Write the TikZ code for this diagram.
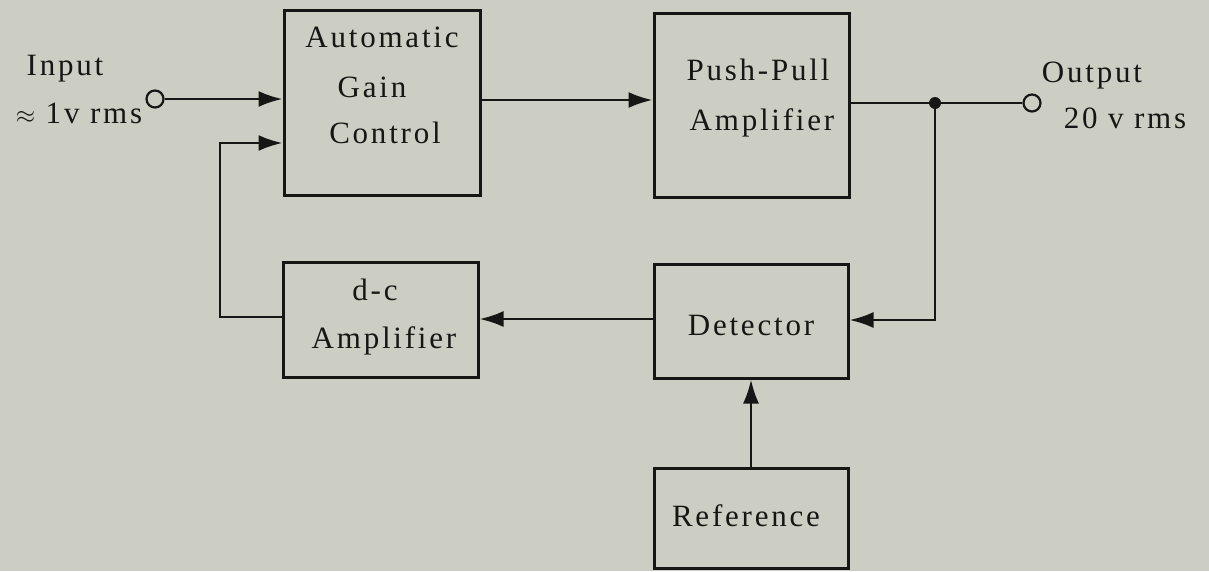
\documentclass[tikz,border=0pt]{standalone}
\usepackage{fontspec}
\setmainfont[LetterSpace=9]{Liberation Serif}
\usetikzlibrary{arrows.meta}
\definecolor{bgc}{RGB}{205,206,195}
\definecolor{ink}{RGB}{22,22,20}
\tikzset{
  blk/.style={draw=ink, line width=3pt, minimum width=#1, inner sep=0pt},
  lbl/.style={anchor=base, inner sep=0pt, text=ink, font=\fontsize{31}{33}\selectfont},
  wire/.style={draw=ink, line width=2.6pt},
  arr/.style={wire, -{Latex[length=24pt,width=16pt]}},
  term/.style={circle, draw=ink, line width=2.2pt, minimum size=17pt, inner sep=0pt},
  jdot/.style={circle, fill=ink, minimum size=12pt, inner sep=0pt}
}
\begin{document}
\begin{tikzpicture}[x=1pt,y=-1pt]
\fill[bgc] (0,0) rectangle (1209,571);
\useasboundingbox (0,0) rectangle (1209,571);

% boxes
\node[blk=196pt, minimum height=185pt] (agc) at (382,102.5) {};
\node[blk=195pt, minimum height=184pt] (pp) at (751.5,105) {};
\node[blk=195pt, minimum height=115pt] (dc) at (380.5,319.5) {};
\node[blk=194pt, minimum height=114pt] (det) at (751,321) {};
\node[blk=194pt, minimum height=100pt] (ref) at (751,518) {};

% texts
\node[lbl] (t1) at (382,47) {Automatic};
\node[lbl] (t2) at (372,97) {Gain};
\node[lbl] (t3) at (385,143) {Control};
\node[lbl] (t4) at (758,80) {Push-Pull};
\node[lbl] (t5) at (762,130) {Amplifier};
\node[lbl] (t6) at (375,300) {d-c};
\node[lbl] (t7) at (384,348) {Amplifier};
\node[lbl] (t8) at (751,335) {Detector};
\node[lbl] (t9) at (746,526) {Reference};
\node[lbl] (tin) at (65,75) {Input};
\node[lbl] (tinv) at (79,123) {$\approx$ 1v rms};
\node[lbl] (tout) at (1092,82) {Output};
\node[lbl] (toutv) at (1125,128) {20 v rms};

% terminals and junction
\node[term] (in) at (155,99) {};
\node[term] (out) at (1032,103) {};
\node[jdot] (j) at (935,103) {};
\coordinate (fbl) at (220,317);
\coordinate (fbt) at (220,143);
\coordinate (jr) at (935,320);

% connectors
\draw[arr] (in.east) -- (agc.west |- in.east);
\draw[arr] (agc.east |- 0,100) -- (pp.west |- 0,100);
\draw[wire] (pp.east |- j) -- (j) -- (out.west);
\draw[arr] (j.center) -- (jr) -- (det.east |- jr);
\draw[arr] (det.west |- 0,319) -- (dc.east |- 0,319);
\draw[arr] (dc.west |- fbl) -- (fbl) -- (fbt) -- (agc.west |- fbt);
\draw[arr] (ref.north) -- (det.south);
\end{tikzpicture}
\end{document}
